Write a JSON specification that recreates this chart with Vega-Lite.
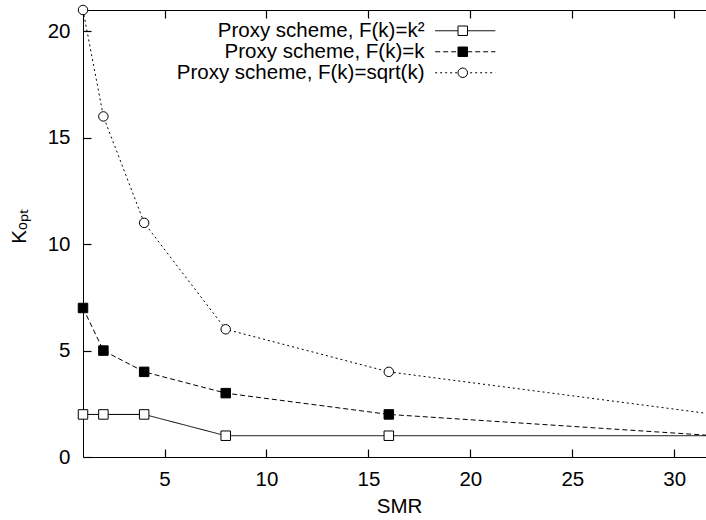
{
  "$schema": "https://vega.github.io/schema/vega-lite/v6.json",
  "autosize": {"type": "none"},
  "padding": {"left": 83, "top": 10, "right": 0, "bottom": 63},
  "width": 632,
  "height": 447,
  "config": {
    "font": "Liberation Sans",
    "view": {"stroke": "black", "strokeWidth": 1},
    "axis": {
      "grid": false,
      "domain": false,
      "ticks": true,
      "tickColor": "black",
      "tickSize": 8,
      "offset": -8,
      "tickWidth": 1.2,
      "labelFontSize": 20.5,
      "labelColor": "black",
      "labelFont": "Liberation Sans",
      "titleFontSize": 20.5,
      "titleFontWeight": "normal",
      "titleColor": "black",
      "titleFont": "Liberation Sans"
    }
  },
  "data": {
    "values": [
      {"x": 1, "y": 2, "s": "Proxy scheme, F(k)=k²"},
      {"x": 2, "y": 2, "s": "Proxy scheme, F(k)=k²"},
      {"x": 4, "y": 2, "s": "Proxy scheme, F(k)=k²"},
      {"x": 8, "y": 1, "s": "Proxy scheme, F(k)=k²"},
      {"x": 16, "y": 1, "s": "Proxy scheme, F(k)=k²"},
      {"x": 32, "y": 1, "s": "Proxy scheme, F(k)=k²"},
      {"x": 1, "y": 7, "s": "Proxy scheme, F(k)=k"},
      {"x": 2, "y": 5, "s": "Proxy scheme, F(k)=k"},
      {"x": 4, "y": 4, "s": "Proxy scheme, F(k)=k"},
      {"x": 8, "y": 3, "s": "Proxy scheme, F(k)=k"},
      {"x": 16, "y": 2, "s": "Proxy scheme, F(k)=k"},
      {"x": 32, "y": 1, "s": "Proxy scheme, F(k)=k"},
      {"x": 1, "y": 21, "s": "Proxy scheme, F(k)=sqrt(k)"},
      {"x": 2, "y": 16, "s": "Proxy scheme, F(k)=sqrt(k)"},
      {"x": 4, "y": 11, "s": "Proxy scheme, F(k)=sqrt(k)"},
      {"x": 8, "y": 6, "s": "Proxy scheme, F(k)=sqrt(k)"},
      {"x": 16, "y": 4, "s": "Proxy scheme, F(k)=sqrt(k)"},
      {"x": 32, "y": 2, "s": "Proxy scheme, F(k)=sqrt(k)"}
    ]
  },
  "layer": [
    {
      "mark": {"type": "line", "color": "black", "strokeWidth": 1},
      "encoding": {
        "x": {"field": "x", "type": "quantitative", "scale": {"domain": [1, 32], "nice": false, "zero": false},
              "axis": {"orient": "bottom", "values": [5, 10, 15, 20, 25, 30], "labelPadding": 12, "title": "SMR", "titlePadding": 7}},
        "y": {"field": "y", "type": "quantitative", "scale": {"domain": [0, 21], "nice": false},
              "axis": {"orient": "left", "values": [0, 5, 10, 15, 20], "labelPadding": 13, "title": "Kₒₚₜ", "titlePadding": 18, "titleY": 216}},
        "strokeDash": {
          "field": "s", "type": "nominal",
          "sort": ["Proxy scheme, F(k)=k²", "Proxy scheme, F(k)=k", "Proxy scheme, F(k)=sqrt(k)"],
          "scale": {"range": [[1, 0], [5, 3], [2, 3]]},
          "legend": {
            "orient": "none", "legendX": 372, "legendY": 10.5, "title": null,
            "symbolType": "M-4.3,0H4.3", "symbolSize": 196,
            "symbolStrokeColor": "black", "symbolStrokeWidth": 1, "symbolFillColor": "transparent",
            "labelAlign": "right", "labelOffset": -51, "labelFontSize": 20.5, "labelColor": "black",
            "labelFont": "Liberation Sans", "labelLimit": 0, "padding": 0, "rowPadding": 0
          }
        }
      }
    },
    {
      "mark": {"type": "point", "filled": true, "strokeWidth": 1, "opacity": 1, "size": 90},
      "encoding": {
        "x": {"field": "x", "type": "quantitative", "axis": null},
        "y": {"field": "y", "type": "quantitative", "axis": null},
        "shape": {
          "field": "s", "type": "nominal",
          "scale": {"domain": ["Proxy scheme, F(k)=k²", "Proxy scheme, F(k)=k", "Proxy scheme, F(k)=sqrt(k)"],
                    "range": ["square", "square", "circle"]},
          "legend": {
            "orient": "none", "legendX": 369.5, "legendY": 10.5, "title": null,
            "symbolSize": 90, "symbolStrokeWidth": 1,
            "labelFontSize": 20.5, "labelOpacity": 0, "padding": 0, "rowPadding": 0
          }
        },
        "fill": {
          "field": "s", "type": "nominal",
          "scale": {"domain": ["Proxy scheme, F(k)=k²", "Proxy scheme, F(k)=k", "Proxy scheme, F(k)=sqrt(k)"],
                    "range": ["white", "black", "white"]},
          "legend": {
            "orient": "none", "legendX": 369.5, "legendY": 10.5, "title": null,
            "symbolSize": 90, "symbolStrokeWidth": 1,
            "labelFontSize": 20.5, "labelOpacity": 0, "padding": 0, "rowPadding": 0
          }
        },
        "stroke": {
          "field": "s", "type": "nominal",
          "scale": {"domain": ["Proxy scheme, F(k)=k²", "Proxy scheme, F(k)=k", "Proxy scheme, F(k)=sqrt(k)"],
                    "range": ["black", "black", "black"]},
          "legend": {
            "orient": "none", "legendX": 369.5, "legendY": 10.5, "title": null,
            "symbolSize": 90, "symbolStrokeWidth": 1,
            "labelFontSize": 20.5, "labelOpacity": 0, "padding": 0, "rowPadding": 0
          }
        }
      }
    },
    {
      "mark": {"type": "point", "opacity": 0},
      "encoding": {
        "x": {"field": "x", "type": "quantitative",
              "axis": {"orient": "top", "values": [5, 10, 15, 20, 25, 30], "labels": false, "title": null}},
        "y": {"field": "y", "type": "quantitative",
              "axis": {"orient": "right", "values": [0, 5, 10, 15, 20], "labels": false, "title": null}}
      }
    }
  ],
  "resolve": {"axis": {"x": "independent", "y": "independent"}}
}
